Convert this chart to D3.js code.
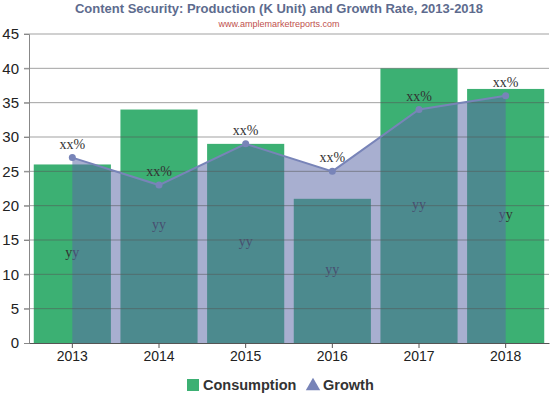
<!DOCTYPE html>
<html>
<head>
<meta charset="utf-8">
<script src="https://cdn.jsdelivr.net/npm/d3@7"></script>
<style>
  body { margin: 0; background: #fff; }
  svg { display: block; font-family: "Liberation Sans", Arial, sans-serif; }
</style>
</head>
<body>
<figure id="chart" style="margin:0"></figure>
<script>
// chart data
const years = ["2013", "2014", "2015", "2016", "2017", "2018"];
const consumption = [26, 34, 29, 21, 40, 37];
const growth = [27, 23, 29, 25, 34, 36];
const yTicks = [0, 5, 10, 15, 20, 25, 30, 35, 40, 45];

const width = 557, height = 395;
const margin = { top: 34, right: 8, bottom: 52, left: 29 };

const svg = d3.select("figure#chart")
  .append("svg")
  .attr("width", width)
  .attr("height", height);

const x = d3.scaleBand()
  .domain(years)
  .range([margin.left, width - margin.right])
  .paddingInner(0.11)
  .paddingOuter(0.055);

const y = d3.scaleLinear()
  .domain([0, 45])
  .range([height - margin.bottom, margin.top]);

const cx = d => x(d) + x.bandwidth() / 2;

// title
svg.append("text")
  .attr("x", 279).attr("y", 13)
  .attr("text-anchor", "middle")
  .style("font-size", "13px").style("font-weight", "bold")
  .attr("fill", "#5d6b8e")
  .text("Content Security: Production (K Unit) and Growth Rate, 2013-2018");

svg.append("text")
  .attr("x", 279).attr("y", 27)
  .attr("text-anchor", "middle")
  .style("font-size", "9px")
  .attr("fill", "#c0504d")
  .text("www.amplemarketreports.com");

// bars
svg.selectAll("rect.bar")
  .data(consumption)
  .enter()
  .append("rect")
  .attr("class", "bar")
  .attr("x", (d, i) => x(years[i]))
  .attr("y", d => y(d))
  .attr("width", x.bandwidth())
  .attr("height", d => y(0) - y(d))
  .attr("fill", "#3cb073");

// yy labels at half bar height
svg.selectAll("text.yy")
  .data(consumption)
  .enter()
  .append("text")
  .attr("class", "yy")
  .attr("x", (d, i) => cx(years[i]))
  .attr("y", d => y(d / 2) + 3)
  .attr("text-anchor", "middle")
  .style("font-family", "'Liberation Serif', serif")
  .style("font-size", "14px")
  .attr("fill", "#333")
  .text("yy");

// growth area
const area = d3.area()
  .x((d, i) => cx(years[i]))
  .y0(y(0))
  .y1(d => y(d));

svg.append("path")
  .datum(growth)
  .attr("d", area)
  .attr("fill", "#5b68a6")
  .attr("fill-opacity", 0.53);

// grid lines
svg.selectAll("line.grid")
  .data(yTicks.slice(1))
  .enter()
  .append("line")
  .attr("class", "grid")
  .attr("x1", margin.left - 5).attr("x2", width - margin.right)
  .attr("y1", d => y(d)).attr("y2", d => y(d))
  .attr("stroke", "#555")
  .attr("stroke-opacity", 0.55)
  .attr("stroke-width", 1);

// y axis
const yAxis = svg.append("g")
  .attr("transform", `translate(${margin.left},0)`)
  .call(d3.axisLeft(y).tickValues(yTicks).tickSize(5).tickPadding(5));
yAxis.select(".domain").attr("stroke", "#888");
yAxis.selectAll(".tick line").attr("stroke", "#888");
yAxis.selectAll("text")
  .style("font-size", "15px")
  .attr("fill", "#222");

// x axis
const xAxis = svg.append("g")
  .attr("transform", `translate(0,${y(0)})`)
  .call(d3.axisBottom(x).tickSize(5).tickPadding(3).tickSizeOuter(0));
xAxis.select(".domain").attr("stroke", "#555");
xAxis.selectAll(".tick line").attr("stroke", "#555");
xAxis.selectAll("text")
  .style("font-size", "14px")
  .attr("fill", "#222");

// growth line and points
svg.append("path")
  .datum(growth)
  .attr("d", d3.line().x((d, i) => cx(years[i])).y(d => y(d)))
  .attr("fill", "none")
  .attr("stroke", "#7884b8")
  .attr("stroke-width", 2);

svg.selectAll("circle.pt")
  .data(growth)
  .enter()
  .append("circle")
  .attr("class", "pt")
  .attr("cx", (d, i) => cx(years[i]))
  .attr("cy", d => y(d))
  .attr("r", 3.5)
  .attr("fill", "#7884b8");

svg.selectAll("text.xx")
  .data(growth)
  .enter()
  .append("text")
  .attr("class", "xx")
  .attr("x", (d, i) => cx(years[i]))
  .attr("y", d => y(d) - 9)
  .attr("text-anchor", "middle")
  .style("font-family", "'Liberation Serif', serif")
  .style("font-size", "14px")
  .attr("fill", "#333")
  .text("xx%");

// legend
const legend = svg.append("g").attr("transform", "translate(0,385)");
legend.append("rect")
  .attr("x", 187).attr("y", -6).attr("width", 12).attr("height", 12)
  .attr("fill", "#3cb073");
legend.append("text")
  .attr("x", 203).attr("y", 5)
  .style("font-size", "14.5px").style("font-weight", "bold")
  .attr("fill", "#333")
  .text("Consumption");
legend.append("path")
  .attr("d", d3.symbol(d3.symbolTriangle, 90)())
  .attr("transform", "translate(313,1)")
  .attr("fill", "#7884b8");
legend.append("text")
  .attr("x", 323).attr("y", 5)
  .style("font-size", "14.5px").style("font-weight", "bold")
  .attr("fill", "#333")
  .text("Growth");
</script>
</body>
</html>
